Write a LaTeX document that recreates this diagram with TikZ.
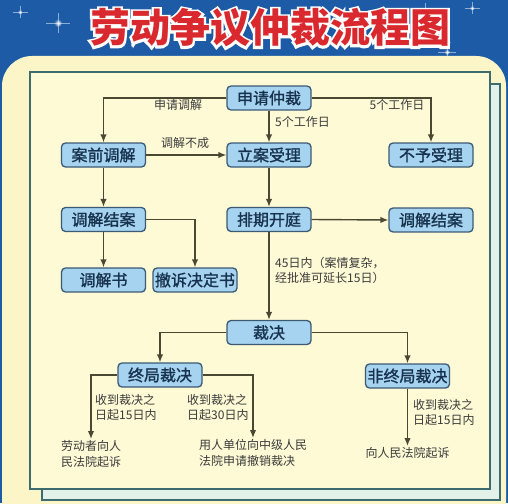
\documentclass[tikz,border=0pt]{standalone}
\usepackage{fontspec}
\setmainfont{Noto Sans CJK SC}
\newfontfamily\boxfont[FakeBold=1.2]{Noto Sans CJK SC}
\usetikzlibrary{arrows.meta}
\definecolor{bgblue}{HTML}{1D5BA6}
\definecolor{panel}{HTML}{FBF5C8}
\definecolor{cream}{HTML}{FFFAD6}
\definecolor{mint}{HTML}{E2F2EA}
\definecolor{framec}{HTML}{3E6B6D}
\definecolor{boxfill}{HTML}{A6D3EF}
\definecolor{boxline}{HTML}{3B5A75}
\definecolor{boxtext}{HTML}{17324F}
\definecolor{lbltext}{HTML}{3A3A3A}
\definecolor{arrline}{HTML}{4A4832}
\definecolor{titlered}{HTML}{D9282E}
\newcommand{\strokeon}{\special{pdf:literal direct 2 Tr 4.6 w 1 1 1 RG 1 1 1 rg}}
\newcommand{\strokeoff}{\special{pdf:literal direct 0 Tr}}
\tikzset{
  box/.style={draw=boxline, fill=boxfill, line width=1.3pt, rounded corners=4pt,
    minimum width=84pt, minimum height=24pt, inner sep=1pt, text=boxtext,
    font=\boxfont\fontsize{16}{18}\selectfont},
  lbl/.style={text=lbltext, font=\fontsize{12}{15.5}\selectfont, inner sep=0pt, align=left},
  endtxt/.style={text=lbltext, font=\fontsize{12}{16}\selectfont, inner xsep=0pt, inner ysep=1.5pt, align=left},
  arr/.style={draw=arrline, line width=1.4pt, -{Latex[length=8pt,width=6.5pt]}},
  frame/.style={draw=framec, line width=2.2pt},
  titletext/.style={font=\fontsize{40}{42}\selectfont\bfseries, inner sep=0pt},
  sparkle/.style={inner color=white, outer color=bgblue},
}
\begin{document}
\begin{tikzpicture}[x=1pt,y=-1pt]
\useasboundingbox (0,0) rectangle (508,503);
% background
\fill[bgblue] (0,0) rectangle (508,503);
\foreach \sx/\sy/\sr in {58/23/4, 425/12/3.5, 472/8/2.5, 447/52/3, 20/12/2.5} {
  \shade[sparkle] (\sx,\sy) circle (\sr);
  \draw[white, opacity=0.5, line width=0.5pt] (\sx-3*\sr,\sy) -- (\sx+3*\sr,\sy) (\sx,\sy-2.5*\sr) -- (\sx,\sy+2.5*\sr);
}
% yellow panel
\fill[panel, rounded corners=30pt] (2,56) rectangle (506,560);
% frames
\draw[frame, fill=mint] (42,84) rectangle (500,500);
\draw[frame, fill=cream] (30,72) rectangle (490,489);
% title: white outline behind, red on top
\node[titletext, text=white] (titleedge) at (270,28) {\strokeon 劳动争议仲裁流程图\strokeoff};
\node[titletext, text=titlered] (title) at (270,28) {劳动争议仲裁流程图};
% boxes
\node[box] (sq) at (269,98) {申请仲裁};
\node[box] (aq) at (103.5,155) {案前调解};
\node[box] (la) at (269,155) {立案受理};
\node[box] (by) at (431,155) {不予受理};
\node[box] (tj1) at (103.5,219.5) {调解结案};
\node[box] (pq) at (269,219.5) {排期开庭};
\node[box] (tj2) at (431,220) {调解结案};
\node[box] (tjs) at (103.5,280) {调解书};
\node[box] (cs) at (195,280) {撤诉决定书};
\node[box] (cj) at (269,332.5) {裁决};
\node[box] (zj) at (160,375) {终局裁决};
\node[box] (fzj) at (407.5,376) {非终局裁决};
% labels
\node[lbl] (l1) at (178,105) {申请调解};
\node[lbl, anchor=west] (l2) at (275,122) {5个工作日};
\node[lbl] (l3) at (397,105) {5个工作日};
\node[lbl] (l4) at (185,143) {调解不成};
\node[lbl, anchor=north west] (l5) at (275,257) {45日内（案情复杂，\\经批准可延长15日）};
\node[lbl, anchor=north west] (l6) at (95,394) {收到裁决之\\日起15日内};
\node[lbl, anchor=north west] (l7) at (187,394) {收到裁决之\\日起30日内};
\node[lbl, anchor=north west] (l8) at (413,399) {收到裁决之\\日起15日内};
% end texts
\node[endtxt, anchor=north] (t1) at (91,439) {劳动者向人\\民法院起诉};
\node[endtxt, anchor=north] (t2) at (253,438) {用人单位向中级人民\\法院申请撤销裁决};
\node[endtxt, anchor=north] (t3) at (407.5,446) {向人民法院起诉};
% connectors
\draw[arr] (sq.west) -| (aq.north);
\draw[arr] (sq.south) -- (la.north);
\draw[arr] (sq.east) -| (by.north);
\draw[arr] (aq.east) -- (la.west);
\draw[arr] (aq.south) -- (tj1.north);
\draw[arr] (la.south) -- (pq.north);
\draw[arr] (tj1.south) -- (tjs.north);
\draw[arr] (tj1.east) -| (cs.north);
\draw[arr] (pq.east) -- (tj2.west);
\draw[arr] (pq.south) -- (cj.north);
\draw[arr] (cj.west) -| (zj.north);
\draw[arr] (cj.east) -| (fzj.north);
\draw[arr] (zj.west) -| (t1.north);
\draw[arr] (zj.east) -| (t2.north);
\draw[arr] (fzj.south) -- (t3.north);
\end{tikzpicture}
\end{document}
